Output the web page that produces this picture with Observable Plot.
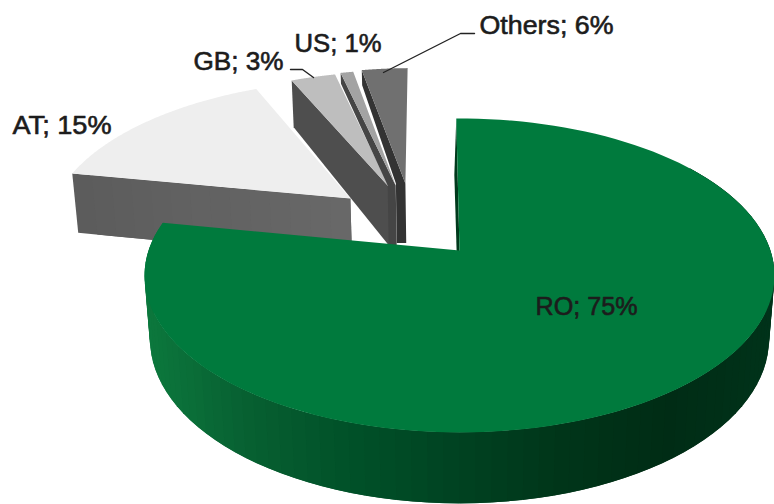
<!DOCTYPE html>
<html><head><meta charset="utf-8">
<script src="https://cdn.jsdelivr.net/npm/d3@7"></script>
<script src="https://cdn.jsdelivr.net/npm/@observablehq/plot@0.6"></script>
<style>html,body{margin:0;padding:0;background:#fff}svg{display:block;max-width:none}</style>
</head><body><div id="chart"></div>
<script>
// data
const categories   = ["RO","AT","GB","US","Others"];
const printedShare = [75,15,3,1,6];           // the numbers printed in the labels
const drawnShare   = [78,15.2,2.8,0.8,2.9];   // the wedge sizes as measured in the picture, % of the circle
const labelX = [535,12,193,294,479];
const labelY = [316,135,71,53,35];
const labelW = [102,99,90,87,134];

// style and layout
const explodeX = [0,-0.371,-0.241,-0.220,-0.187];
const explodeZ = [0,-0.359,-0.440,-0.455,-0.471];
const rimDepth = [1,1,0.86,0.2,0.28];
const columnW  = [0,0,0,8,9.5];
const topColors  = ["#007a3d","#eeeeee","#bebebe","#a3a3a3","#707070"];
const wallStart  = ["#0c783d","#5c5c5c","#4e4e4e","#454545","#333333"];
const wallEnd    = ["#002c15","#686868","#4e4e4e","#454545","#333333"];
const roWallStops= ["#0c783d","#075f31","#005028","#004221","#003519","#002c15","#00331a"];
const leaderGB = [[290,69],[302,69],[313,77]];
const leaderOthers = [[383,72],[460,33],[474,33]];
const cx=459, cy=250, A=311, B=153, C=64, K=0.159, M=0.017, STEPS=120;

function project(X,Z,H=0){
  const w=1-K*Z+M*H;
  return [cx+A*X/w, cy+(B*Z+C*H)/w];
}
const polys=[];
let pid=0;
function addPoly(pts,fill){
  const id=pid++;
  pts.forEach(p=>polys.push({id,x:p[0],y:p[1],fill}));
}
function radial(i,a,H){ return project(explodeX[i]+Math.sin(a),explodeZ[i]-Math.cos(a),H); }
function apex(i,H){ return project(explodeX[i],explodeZ[i],H); }
function topFace(i,a0,a1){
  const pts=[apex(i,0)];
  for(let s=0;s<=STEPS;s++) pts.push(radial(i,a0+(a1-a0)*s/STEPS,0));
  addPoly(pts,topColors[i]);
}
function radialFace(i,a){
  const P=(t,H)=>project(explodeX[i]+Math.sin(a)*(1-t),explodeZ[i]-Math.cos(a)*(1-t),H);
  if(columnW[i]>0){
    // narrow band along the edge, then a column straight down at the apex
    const at=apex(i,0),ab=apex(i,1),c=columnW[i];
    addPoly([P(0,0),at,ab,[ab[0]-c,ab[1]],[at[0]-c,at[1]],P(0,rimDepth[i])],wallStart[i]);
  } else if(wallStart[i]===wallEnd[i]){
    addPoly([P(0,0),P(1,0),P(1,1),P(0,rimDepth[i])],wallStart[i]);
  } else {
    // later strips overlap earlier ones, so no seams show
    const c=d3.interpolateRgb(wallStart[i],wallEnd[i]), n=14;
    for(let s=0;s<n;s++){
      const t1=Math.min(1,(s+2)/n);
      addPoly([P(s/n,0),P(t1,0),P(t1,1),P(s/n,1)],c(s/(n-1)));
    }
  }
}
const angles=[]; let acc=0;
drawnShare.forEach(v=>{angles.push([acc/100*2*Math.PI,(acc+v)/100*2*Math.PI]);acc+=v;});

// back slices, left to right
[1,2,3,4].forEach(i=>{
  radialFace(i,angles[i][0]);
  topFace(i,angles[i][0],angles[i][1]);
});
// main slice
{
  const [a0,a1]=angles[0];
  const c=d3.piecewise(d3.interpolateRgb,roWallStops);
  const start=a0-0.012;
  addPoly([apex(0,0),radial(0,start,0),[radial(0,start,1)[0]-2,radial(0,start,1)[1]],[apex(0,1)[0]-1,apex(0,1)[1]]],"#003a1c");
  const n=90, from=Math.PI*0.3, to=a1, du=(to-from)/n;
  for(let s=n-1;s>=0;s--){
    // each strip runs one step past its neighbour, so no seams show
    const u0=from+du*s,u1=Math.min(to,u0+du),u2=Math.max(from,u0-du);
    const xm=radial(0,u0+du/2,1)[0];
    addPoly([radial(0,u2,0),radial(0,u1,0),radial(0,u1,1),radial(0,u2,1)],c(Math.max(0,Math.min(1,(xm-150)/620))));
  }
  topFace(0,start,a1);
}
const labels=categories.map((c,i)=>({text:`${c}; ${printedShare[i]}%`,x:labelX[i],y:labelY[i],w:labelW[i]}));
const leaders=[...leaderGB.map(p=>({id:"GB",x:p[0],y:p[1]})),...leaderOthers.map(p=>({id:"Others",x:p[0],y:p[1]}))];

const chart=Plot.plot({
  width:774,height:504,margin:0,
  style:{background:"#fff"},
  x:{domain:[0,774],range:[0,774],axis:null},
  y:{domain:[0,504],range:[0,504],axis:null},
  color:{type:"identity"},
  marks:[
    Plot.line(polys,{x:"x",y:"y",z:"id",fill:"fill",stroke:"none",curve:"linear"}),
    Plot.line(leaders,{x:"x",y:"y",z:"id",stroke:"#222",strokeWidth:1.4,curve:"linear"}),
    Plot.text(labels,{x:"x",y:"y",text:"text",textAnchor:"start",lineAnchor:"bottom",dy:-1.5,
      fontFamily:"Liberation Sans",fontSize:25,fill:"#1c1c1c",stroke:"#1c1c1c",strokeWidth:0.6})
  ]
});
document.getElementById("chart").appendChild(chart);
// fit each label to the width it occupies in the picture
d3.select(chart).selectAll("text").each(function(){
  const l=labels.find(o=>o.text===this.textContent);
  if(l){this.setAttribute("textLength",l.w);this.setAttribute("lengthAdjust","spacingAndGlyphs");}
});
</script></body></html>
